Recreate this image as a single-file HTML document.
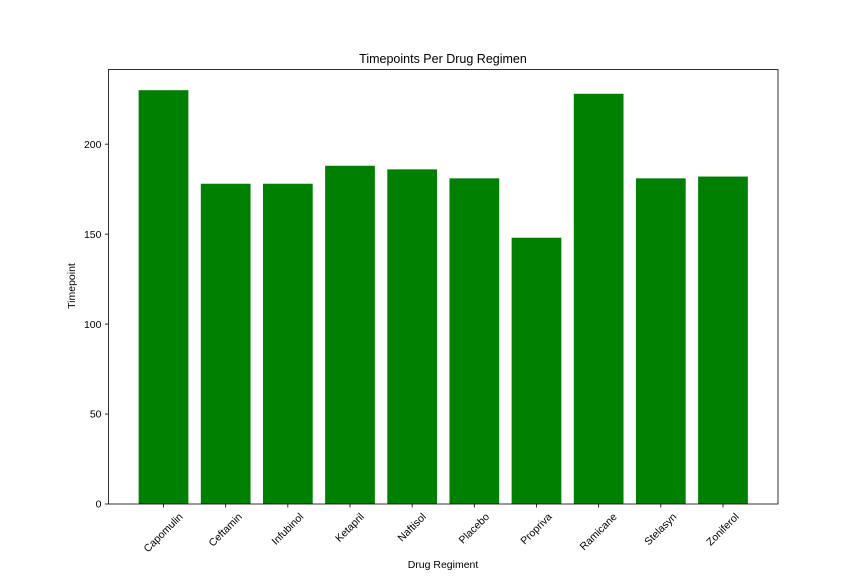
<!DOCTYPE html>
<html><head><meta charset="utf-8"><style>
body{margin:0;background:#fff}
svg text{font-family:"Liberation Sans",sans-serif;fill:#000}
</style></head><body>
<svg id="chart" width="864" height="576" xmlns="http://www.w3.org/2000/svg">
<rect width="864" height="576" fill="#fff"/>
<text x="443" y="63" font-size="12.5" text-anchor="middle">Timepoints Per Drug Regimen</text>
<g id="bars"></g>
<g id="yticks"></g>
<g id="xticks"></g>
<rect x="108.5" y="69.5" width="669.5" height="434.5" fill="none" stroke="#000" stroke-width="0.8"/>
<text transform="translate(75,286) rotate(-90)" font-size="10.5" text-anchor="middle">Timepoint</text>
<text x="443" y="568" font-size="10.5" text-anchor="middle">Drug Regiment</text>
</svg>
<script>
const categories=["Capomulin","Ceftamin","Infubinol","Ketapril","Naftisol","Placebo","Propriva","Ramicane","Stelasyn","Zoniferol"];
const values=[230,178,178,188,186,181,148,228,181,182];
const yTicks=[0,50,100,150,200];
const NS="http://www.w3.org/2000/svg";
const x0=108.5,x1=778,yb=504,yt=69.5,xmin=-0.885,xmax=9.885,ymax=241.5;
const xs=v=>x0+(v-xmin)/(xmax-xmin)*(x1-x0);
const ys=v=>yb-v/ymax*(yb-yt);
const bw=(xs(0.8)-xs(0));
const bars=document.getElementById('bars'),xt=document.getElementById('xticks'),yg=document.getElementById('yticks');
function mk(t,a){const e=document.createElementNS(NS,t);for(const k in a)e.setAttribute(k,a[k]);return e;}
categories.forEach((c,i)=>{
 const r=mk('rect',{x:xs(i)-bw/2,y:ys(values[i]),width:bw,height:yb-ys(values[i]),fill:'#008000'});
 
 
 bars.appendChild(r);
 const tk=mk('line',{x1:xs(i),x2:xs(i),y1:yb,y2:yb+3.5,stroke:'#000','stroke-width':0.8});
 
 
 xt.appendChild(tk);
 const t=mk('text',{'font-size':10.5,'text-anchor':'middle','dominant-baseline':'central'});
 t.textContent=c;
 
 
 xt.appendChild(t);
 const L=t.getComputedTextLength()||c.length*6;
 const h=(L+12)*0.7071;
 const cy=yb+3.5+3.5+h/2;
 t.setAttribute('x',xs(i));t.setAttribute('y',cy);
 t.setAttribute('transform','rotate(-45 '+xs(i)+' '+cy+')');
});
yTicks.forEach(v=>{
 const tk=mk('line',{x1:x0-3.5,x2:x0,y1:ys(v),y2:ys(v),stroke:'#000','stroke-width':0.8});
 
 
 yg.appendChild(tk);
 const t=mk('text',{x:x0-7,y:ys(v)+3.7,'font-size':10.5,'text-anchor':'end'});
 t.textContent=v;
 
 
 yg.appendChild(t);
});
</script>
</body></html>
